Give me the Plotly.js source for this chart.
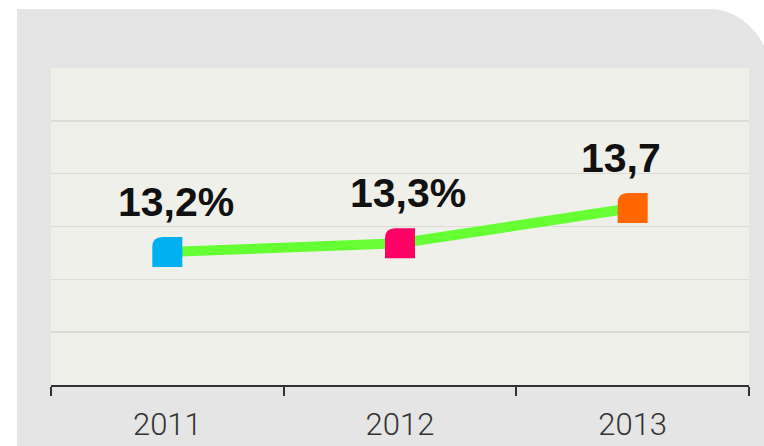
<!DOCTYPE html>
<html>
<head>
<meta charset="utf-8">
<script src="https://cdn.plot.ly/plotly-3.0.1.min.js"></script>
<style>html,body{margin:0;padding:0;background:#ffffff;}#chart{width:764px;height:446px;}</style>
</head>
<body>
<div id="chart"></div>
<script>
// Data
var years = ['2011', '2012', '2013'];
var values = [13.2, 13.3, 13.7];
var valueLabels = ['13,2%', '13,3%', '13,7'];
var markerColors = ['#00b0f0', '#ff0066', '#ff6600'];

// Label offsets (styling, in pixels)
var labelDx = [9, 8, -12];
var labelDy = [50, 50, 50];

var yLo = 11.689, yHi = 15.291;

var trace = {
  x: years,
  y: values,
  type: 'scatter',
  mode: 'lines',
  line: {color: '#66ff33', width: 10},
  hoverinfo: 'skip',
  showlegend: false
};

// Background panel with rounded top-right corner (paper coordinates)
var shapes = [{
  type: 'path',
  xref: 'paper', yref: 'paper',
  path: 'M -0.04871,-0.20505 L -0.04871,1.18612 L 0.94413,1.18612 C 0.99155,1.18612 1.03009,1.08170 1.03009,0.99685 L 1.03009,-0.20505 Z',
  fillcolor: '#e4e5e4',
  line: {width: 0},
  layer: 'below'
}, {
  type: 'rect',
  xref: 'paper', yref: 'paper',
  x0: 0, x1: 1, y0: 0, y1: 1,
  fillcolor: '#f0f0ea',
  line: {width: 0},
  layer: 'below'
}];

// Markers: squares with a rounded top-left corner, anchored to data
var sq = 'M -15,-15 L 15,-15 L 15,15 L -5,15 Q -15,15 -15,5 Z';
years.forEach(function (yr, i) {
  shapes.push({
    type: 'path',
    xref: 'x', yref: 'y',
    xsizemode: 'pixel', ysizemode: 'pixel',
    xanchor: i, yanchor: values[i],
    path: sq,
    fillcolor: markerColors[i],
    line: {width: 0},
    layer: 'above'
  });
});

var annotations = years.map(function (yr, i) {
  return {
    x: i, y: values[i], xref: 'x', yref: 'y',
    text: valueLabels[i],
    showarrow: false,
    xshift: labelDx[i], yshift: labelDy[i],
    font: {family: 'Liberation Sans, Arial, sans-serif', size: 41, color: '#111111', weight: 'bold'}
  };
});

var layout = {
  width: 764, height: 446, autosize: false,
  margin: {l: 51, r: 15, t: 68, b: 61, pad: 0},
  paper_bgcolor: '#ffffff',
  plot_bgcolor: 'rgba(0,0,0,0)',
  showlegend: false,
  xaxis: {
    type: 'category',
    range: [-0.5, 2.5],
    tickson: 'boundaries',
    ticks: 'outside', ticklen: 9, tickwidth: 2, tickcolor: '#333333',
    showline: true, linecolor: '#333333', linewidth: 2,
    showgrid: false, zeroline: false,
    ticklabelstandoff: 11,
    tickfont: {family: 'Roboto, Liberation Sans, sans-serif', size: 31, color: '#333333', weight: 300},
    fixedrange: true
  },
  yaxis: {
    range: [yLo, yHi],
    tick0: yLo, dtick: (yHi - yLo) / 6,
    showticklabels: false, ticks: '',
    showgrid: true, gridcolor: '#dcdcd6', gridwidth: 1.5,
    zeroline: false, showline: false,
    fixedrange: true
  },
  shapes: shapes,
  annotations: annotations
};

Plotly.newPlot('chart', [trace], layout, {displayModeBar: false, staticPlot: true});
</script>
</body>
</html>
